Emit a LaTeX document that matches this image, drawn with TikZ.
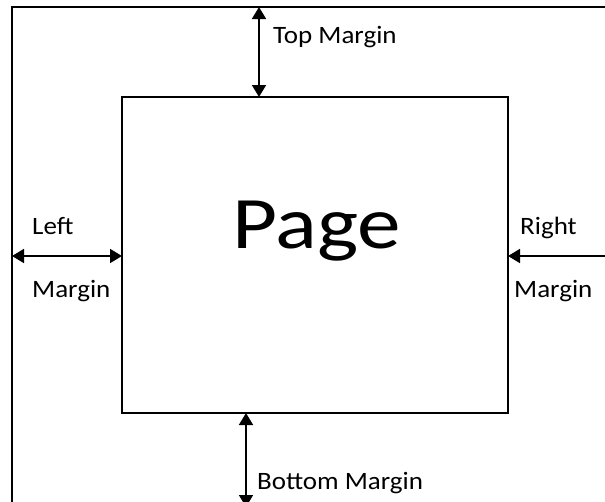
\documentclass[tikz,border=0pt]{standalone}
\usepackage{fontspec}
\setmainfont{Carlito}
\newfontfamily\lblfont[FakeStretch=1.08]{Carlito}
\newfontfamily\bigfont[FakeStretch=1.18]{Carlito}
\usetikzlibrary{arrows.meta}
\begin{document}
\begin{tikzpicture}[x=1pt,y=-1pt,
  frame/.style={draw=black,line width=1.8pt},
  marr/.style={line width=1.7pt,{Triangle[length=12pt,width=14pt]}-{Triangle[length=12pt,width=14pt]}},
  lbl/.style={font=\lblfont\fontsize{25}{28}\selectfont,anchor=base west,inner sep=0pt},
  big/.style={font=\bigfont\fontsize{74}{80}\selectfont,anchor=base west,inner sep=0pt}]
\useasboundingbox (0,0) rectangle (605,501);
\clip (0,0) rectangle (605,501);
% outer frame (clipped at right and bottom)
\draw[frame] (12,7) rectangle (640,540);
% page rectangle
\node[frame,minimum width=386pt,minimum height=316pt,inner sep=0pt] (page) at (315,255) {};
\node[big] (pagetext) at (232,248) {Page};
% top margin
\coordinate (topA) at (259,7);
\coordinate (topB) at (259,97);
\draw[marr] (topA) -- (topB);
\node[lbl] (toplbl) at (273,43) {Top Margin};
% left margin
\coordinate (leftA) at (12,256);
\coordinate (leftB) at (122,256);
\draw[marr] (leftA) -- (leftB);
\node[lbl] (leftlbl) at (32,234) {Left};
\node[lbl] (leftlbl2) at (32,297) {Margin};
% right margin
\coordinate (rightA) at (508,256);
\coordinate (rightB) at (617,256);
\draw[marr] (rightA) -- (rightB);
\node[lbl] (rightlbl) at (520,234) {Right};
\node[lbl] (rightlbl2) at (514,297) {Margin};
% bottom margin
\coordinate (botA) at (246,413);
\coordinate (botB) at (246,507);
\draw[marr] (botA) -- (botB);
\node[lbl] (botlbl) at (257,489) {Bottom Margin};
\end{tikzpicture}
\end{document}
